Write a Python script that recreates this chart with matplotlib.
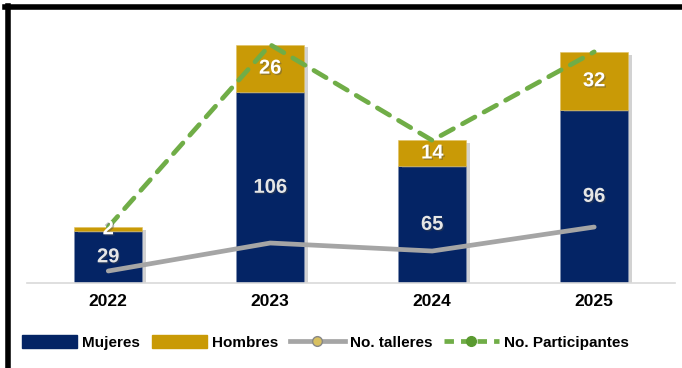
#Talleres y participantes por año - barras apiladas con líneas
import matplotlib.pyplot as plt
import matplotlib.patheffects as pe
from matplotlib.lines import Line2D
from matplotlib.patches import Patch

#Datos
years = ['2022', '2023', '2024', '2025']
mujeres = [29, 106, 65, 96]
hombres = [2, 26, 14, 32]
participantes = [31, 132, 79, 128]
talleres = [3, 10, 8, 14]

#Colores
navy = '#042465'
gold = '#C99A06'
gray = '#A5A5A5'
green = '#70AD47'

plt.rcParams['font.family'] = ['Liberation Sans', 'DejaVu Sans']

fig = plt.figure(figsize=(6.82, 3.68), dpi=100)
ax = fig.add_axes([0.04, 0.231, 0.95, 0.736])
ax2 = ax.twinx()

x = list(range(len(years)))
shadow = [pe.SimplePatchShadow(offset=(3, -2), alpha=0.35, shadow_rgbFace='gray'), pe.Normal()]

#Barras apiladas
b1 = ax.bar(x, mujeres, width=0.42, color=navy, edgecolor='#7f8fb0', linewidth=0.4, zorder=2)
b2 = ax.bar(x, hombres, width=0.42, bottom=mujeres, color=gold, edgecolor='#e0c060', linewidth=0.4, zorder=2)
for b in list(b1) + list(b2):
    b.set_path_effects(shadow)

#Etiquetas de valores
txt_fx = [pe.withSimplePatchShadow(offset=(1, -1), alpha=0.4)]
for i in x:
    ax.text(i, mujeres[i] / 2, str(mujeres[i]), ha='center', va='center', color='#e6e6e6',
            fontsize=14.5, fontweight='bold', zorder=5, path_effects=txt_fx)
    ax.text(i, mujeres[i] + max(hombres[i], 2) / 2, str(hombres[i]), ha='center', va='center', color='white',
            fontsize=14.5, fontweight='bold', zorder=5, path_effects=txt_fx)

#Escala secundaria para talleres
ax2.set_ylim(0, 67.75)
ax2.set_yticks([])

#Líneas (las dos por encima de las barras)
ax.plot(x, talleres, color=gray, linewidth=3.4, solid_capstyle='round', zorder=3, transform=ax2.transData)
ax.plot(x, participantes, color=green, linewidth=3.4, linestyle=(0, (3, 2.2)),
        solid_capstyle='round', dash_capstyle='round', zorder=4)
ax.set_zorder(ax2.get_zorder() + 1)
ax.patch.set_visible(False)

ax.set_xlim(-0.5, 3.5)
ax.set_ylim(0, 150)
ax.set_xticks(x)
ax.set_xticklabels(years, fontsize=12.5, fontweight='bold')
ax.tick_params(axis='x', length=0, pad=8)
ax.set_yticks([])
for a in (ax, ax2):
    for s in a.spines.values():
        s.set_visible(False)
ax.spines['bottom'].set_visible(True)
ax.spines['bottom'].set_color('#d9d9d9')
ax.spines['bottom'].set_linewidth(1.2)

#Leyenda
handles = [
    Patch(facecolor=navy, edgecolor=navy),
    Patch(facecolor=gold, edgecolor=gold),
    Line2D([], [], color=gray, linewidth=3.4, marker='o', markersize=7,
           markerfacecolor='#d8c060', markeredgecolor='#888888'),
    Line2D([], [], color=green, linewidth=3.4, linestyle=(0, (2, 1.5)), marker='o', markersize=7,
           markerfacecolor='#5a9a30', markeredgecolor='#5a9a30'),
]
labels = ['Mujeres', 'Hombres', 'No. talleres', 'No. Participantes']
fig.legend(handles, labels, loc='center left', bbox_to_anchor=(0.012, 0.07), ncol=4, frameon=False,
           handlelength=3.6, handleheight=0.9, handletextpad=0.35, columnspacing=0.75,
           prop={'size': 11, 'weight': 'bold'})

#Borde del recuadro
fig.add_artist(Line2D([0.011, 0.011], [0.0, 0.985], color='black', linewidth=4, transform=fig.transFigure))
fig.add_artist(Line2D([0.008, 1.0], [0.981, 0.981], color='black', linewidth=4, transform=fig.transFigure))

fig.savefig('out.png', dpi=100)
